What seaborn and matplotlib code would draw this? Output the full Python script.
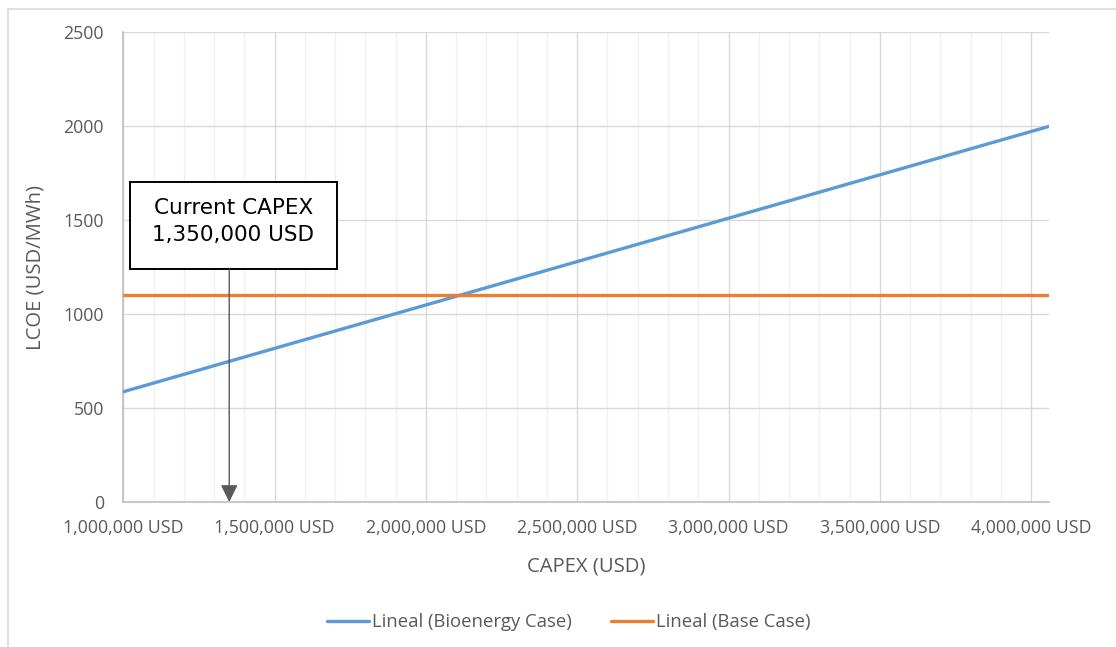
import matplotlib
matplotlib.use("Agg")
import matplotlib.pyplot as plt
from matplotlib.patches import Rectangle, FancyArrowPatch
from matplotlib.ticker import FuncFormatter, MultipleLocator
import seaborn as sns
import pandas as pd

# Linear trend lines: LCOE as a function of CAPEX
capex = [1_000_000, 4_060_000]
lcoe_bioenergy = [587, 2000]
lcoe_base = [1100, 1100]
series_names = ["Lineal (Bioenergy Case)", "Lineal (Base Case)"]
series_colors = ["#5B9BD5", "#ED7D31"]

current_capex = 1_350_000
current_label = "Current CAPEX\n1,350,000 USD"

x_ticks = [1_000_000, 1_500_000, 2_000_000, 2_500_000, 3_000_000, 3_500_000, 4_000_000]
y_ticks = [0, 500, 1000, 1500, 2000, 2500]

df = pd.concat([
    pd.DataFrame({"CAPEX": capex, "LCOE": lcoe_bioenergy, "Series": series_names[0]}),
    pd.DataFrame({"CAPEX": capex, "LCOE": lcoe_base, "Series": series_names[1]}),
])

sns.set_theme(style="white")
plt.rcParams["font.family"] = ["Open Sans", "DejaVu Sans"]

fig = plt.figure(figsize=(11.16, 6.47), dpi=100)
ax = fig.add_axes([0.1105, 0.2241, 0.8297, 0.7259])

sns.lineplot(data=df, x="CAPEX", y="LCOE", hue="Series",
             palette=dict(zip(series_names, series_colors)),
             linewidth=2.4, ax=ax, zorder=3)

ax.set_xlim(capex[0], capex[-1])
ax.set_ylim(y_ticks[0], y_ticks[-1])
ax.set_xticks(x_ticks)
ax.set_yticks(y_ticks)
ax.xaxis.set_minor_locator(MultipleLocator(100_000))
ax.xaxis.set_major_formatter(FuncFormatter(lambda v, p: f"{v:,.0f} USD"))

ax.grid(which="major", axis="both", color="#D9D9D9", linewidth=1.0, zorder=0)
ax.grid(which="minor", axis="x", color="#F0F0F0", linewidth=1.0, zorder=0)
ax.set_axisbelow(True)

for side in ["top", "right"]:
    ax.spines[side].set_visible(False)
for side in ["left", "bottom"]:
    ax.spines[side].set_color("#BFBFBF")
    ax.spines[side].set_linewidth(1.2)

ax.tick_params(axis="both", which="both", length=0, labelsize=12.8,
               labelcolor="#595959")
ax.tick_params(axis="x", pad=12)
ax.tick_params(axis="y", pad=14)

ax.set_xlabel("CAPEX (USD)", fontsize=14.6, color="#595959", labelpad=14)
ax.set_ylabel("LCOE (USD/MWh)", fontsize=14.6, color="#595959", labelpad=13)

# Callout box and arrow pointing at the current CAPEX on the x axis
box_left, box_right = 1_022_000, 1_705_000
box_bottom, box_top = 1238, 1702
ax.add_patch(Rectangle((box_left, box_bottom), box_right - box_left,
                       box_top - box_bottom, facecolor="white",
                       edgecolor="black", linewidth=1.4, zorder=5))
ax.text((box_left + box_right) / 2, (box_bottom + box_top) / 2 + 25,
        current_label, ha="center", va="center", fontsize=15.5,
        family="DejaVu Sans", color="black", linespacing=1.45, zorder=6)
ax.add_patch(FancyArrowPatch((current_capex, box_bottom), (current_capex, 0),
                             arrowstyle="-|>,head_length=10.5,head_width=5.2",
                             mutation_scale=1, color="#595959", linewidth=1.0,
                             shrinkA=0, shrinkB=0, zorder=6, clip_on=False))

leg = ax.legend(loc="center", bbox_to_anchor=(0.481, -0.2555), ncol=2,
                frameon=False, fontsize=13.3, handlelength=2.3,
                handletextpad=0.15, columnspacing=2.1)
for t in leg.get_texts():
    t.set_color("#595959")

# Light outline around the chart area
fig.add_artist(Rectangle((8 / 1116, -0.1), 1.2, 1 - 9 / 647 + 0.1,
                         transform=fig.transFigure, fill=False,
                         edgecolor="#D9D9D9", linewidth=1.2))

fig.savefig("out.png", dpi=100, facecolor="white")
